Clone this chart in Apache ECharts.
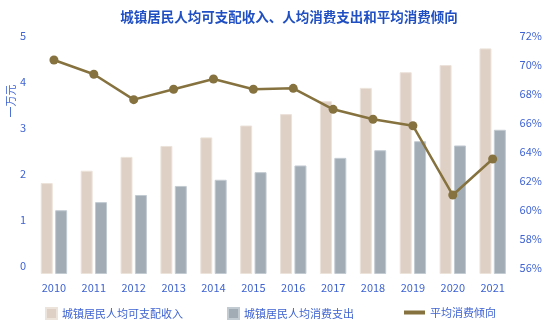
<!DOCTYPE html>
<html><head><meta charset="utf-8">
<script src="https://cdn.jsdelivr.net/npm/echarts@6/dist/echarts.min.js"></script>
<style>html,body{margin:0;padding:0;background:#fff}#c{width:553px;height:331px}</style>
</head><body><div id="c"></div>
<script>
const years = ['2010','2011','2012','2013','2014','2015','2016','2017','2018','2019','2020','2021'];
const income = [1.91,2.17,2.46,2.69,2.87,3.12,3.36,3.63,3.91,4.24,4.39,4.74];
const consumption = [1.34,1.51,1.66,1.85,1.98,2.14,2.28,2.44,2.60,2.79,2.70,3.03];
const propensity = [70.39,69.43,67.72,68.42,69.11,68.42,68.48,67.07,66.40,65.97,61.31,63.73];
const leftTicks = [0,1,2,3,4,5];
const rightTicks = [56,58,60,62,64,66,68,70,72];
const names = ['城镇居民人均可支配收入','城镇居民人均消费支出','平均消费倾向'];
const title = '城镇居民人均可支配收入、人均消费支出和平均消费倾向';
const unitName = '一万元';

const FONT = '"Noto Sans CJK SC", "Noto Sans", sans-serif';
const BLUE = '#3f63d2';
const chart = echarts.init(document.getElementById('c'), null, {renderer:'canvas'});
const legendText = {color: BLUE, fontSize: 11, fontFamily: FONT};

// tick labels in the reference sit slightly above their gridline positions
const leftRich = {}, rightRich = {};
leftTicks.forEach((v, i) => {
  const off = Math.max(0, 8 - 1.6 * v);
  leftRich['l' + i] = {color: BLUE, fontSize: 11, padding: [0, 0, 2 * off, 0]};
});
rightTicks.forEach((v, i) => {
  const off = Math.max(0, 5.7 - 0.375 * (v - 56));
  rightRich['r' + i] = {color: BLUE, fontSize: 11, padding: [0, 0, 2 * off, 0]};
});

chart.setOption({
  animation: false,
  textStyle: {fontFamily: FONT},
  title: {text: title, left: 284, top: 5, textAlign: 'center',
    textStyle: {color: '#1f4fc2', fontSize: 13.5, fontWeight: 'bold', fontFamily: FONT}},
  graphic: [{type:'text', x: 11, y: 101, rotation: Math.PI/2,
    style: {text: unitName, fill: BLUE, fontSize: 11, fontFamily: FONT, align:'center', verticalAlign:'middle'}}],
  legend: [
    {data:[{name:names[0], icon:'rect'}], left: 40, top: 302, itemWidth: 11, itemHeight: 11, itemGap: 0, textStyle: legendText},
    {data:[{name:names[1], icon:'rect'}], left: 222, top: 302, itemWidth: 11, itemHeight: 11, itemGap: 0, textStyle: legendText},
    {data:[{name:names[2], icon:'rect', itemStyle:{color:'#85723f'}}], left: 399, top: 302, itemWidth: 21, itemHeight: 4, itemGap: 0, textStyle: legendText}
  ],
  grid: {left: 34, right: 40.4, top: 36, bottom: 57, containLabel: false},
  xAxis: {type:'category', data: years, axisLine:{show:false}, axisTick:{show:false},
    axisLabel:{color: BLUE, fontSize: 11, margin: 8}},
  yAxis: [
    {type:'value', min: leftTicks[0], max: leftTicks[leftTicks.length-1], interval: 1,
      splitLine:{show:false}, axisLine:{show:false}, axisTick:{show:false},
      axisLabel:{color: BLUE, fontSize: 11, margin: 8, rich: leftRich,
        formatter: v => '{l' + leftTicks.indexOf(v) + '|' + v + '}'}},
    {type:'value', min: rightTicks[0], max: rightTicks[rightTicks.length-1], interval: 2,
      splitLine:{show:false}, axisLine:{show:false}, axisTick:{show:false},
      axisLabel:{color: BLUE, fontSize: 11, margin: 7, rich: rightRich,
        formatter: v => '{r' + rightTicks.indexOf(v) + '|' + v + '%}'}}
  ],
  series: [
    {name: names[0], type:'bar', data: income, barWidth: 12, barGap: '20%',
      itemStyle:{color:'#dfd0c5', borderColor:'#ece3db', borderWidth:1}},
    {name: names[1], type:'bar', data: consumption, barWidth: 12, barGap: '20%',
      itemStyle:{color:'#a1acb5', borderColor:'#c3cbd2', borderWidth:1}},
    {name: names[2], type:'line', yAxisIndex: 1, data: propensity, symbol:'circle', symbolSize: 9,
      lineStyle:{color:'#85723f', width: 2.5}, itemStyle:{color:'#85723f'}}
  ]
});
</script></body></html>
